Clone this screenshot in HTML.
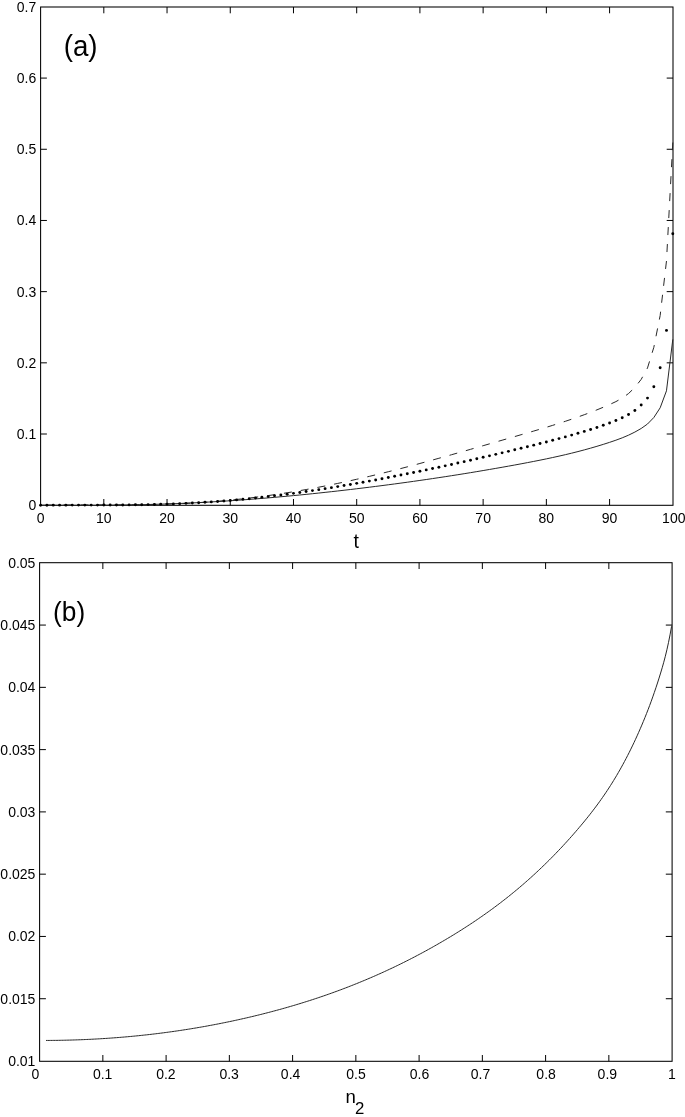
<!DOCTYPE html>
<html><head><meta charset="utf-8"><style>
html,body{margin:0;padding:0;background:#fff;}
svg{display:block;}
text{font-family:"Liberation Sans",sans-serif;fill:#000;}
svg{will-change:transform;}
</style></head><body>
<svg width="685" height="1117" viewBox="0 0 685 1117">
<rect width="685" height="1117" fill="#fff"/>
<rect x="40.6" y="7.0" width="632.40" height="498.30" fill="none" stroke="#000" stroke-width="1.05"/>
<path d="M103.82,505.3 V499.00 M103.82,7.0 V13.30" stroke="#000" stroke-width="1"/>
<path d="M167.04,505.3 V499.00 M167.04,7.0 V13.30" stroke="#000" stroke-width="1"/>
<path d="M230.26,505.3 V499.00 M230.26,7.0 V13.30" stroke="#000" stroke-width="1"/>
<path d="M293.48,505.3 V499.00 M293.48,7.0 V13.30" stroke="#000" stroke-width="1"/>
<path d="M356.70,505.3 V499.00 M356.70,7.0 V13.30" stroke="#000" stroke-width="1"/>
<path d="M419.92,505.3 V499.00 M419.92,7.0 V13.30" stroke="#000" stroke-width="1"/>
<path d="M483.14,505.3 V499.00 M483.14,7.0 V13.30" stroke="#000" stroke-width="1"/>
<path d="M546.36,505.3 V499.00 M546.36,7.0 V13.30" stroke="#000" stroke-width="1"/>
<path d="M609.58,505.3 V499.00 M609.58,7.0 V13.30" stroke="#000" stroke-width="1"/>
<path d="M40.6,434.01 H46.90 M673.0,434.01 H666.70" stroke="#000" stroke-width="1"/>
<path d="M40.6,362.83 H46.90 M673.0,362.83 H666.70" stroke="#000" stroke-width="1"/>
<path d="M40.6,291.64 H46.90 M673.0,291.64 H666.70" stroke="#000" stroke-width="1"/>
<path d="M40.6,220.46 H46.90 M673.0,220.46 H666.70" stroke="#000" stroke-width="1"/>
<path d="M40.6,149.27 H46.90 M673.0,149.27 H666.70" stroke="#000" stroke-width="1"/>
<path d="M40.6,78.09 H46.90 M673.0,78.09 H666.70" stroke="#000" stroke-width="1"/>
<path d="M40.60,505.16 L46.92,505.22 L53.24,505.27 L59.57,505.31 L65.89,505.34 L72.21,505.36 L78.53,505.36 L84.85,505.36 L91.18,505.34 L97.50,505.31 L103.82,505.26 L110.14,505.20 L116.46,505.13 L122.79,505.04 L129.11,504.93 L135.43,504.81 L141.75,504.67 L148.07,504.52 L154.40,504.34 L160.72,504.15 L167.04,503.94 L173.36,503.72 L179.68,503.47 L186.01,503.20 L192.33,502.91 L198.65,502.61 L204.97,502.28 L211.29,501.93 L217.62,501.56 L223.94,501.17 L230.26,500.75 L236.58,500.32 L242.90,499.87 L249.23,499.40 L255.55,498.91 L261.87,498.41 L268.19,497.88 L274.51,497.34 L280.84,496.78 L287.16,496.20 L293.48,495.60 L299.80,494.99 L306.12,494.36 L312.45,493.71 L318.77,493.05 L325.09,492.37 L331.41,491.68 L337.73,490.97 L344.06,490.24 L350.38,489.51 L356.70,488.75 L363.02,487.99 L369.34,487.21 L375.67,486.41 L381.99,485.60 L388.31,484.78 L394.63,483.94 L400.95,483.09 L407.28,482.22 L413.60,481.33 L419.92,480.43 L426.24,479.52 L432.56,478.59 L438.89,477.64 L445.21,476.68 L451.53,475.70 L457.85,474.71 L464.17,473.69 L470.50,472.67 L476.82,471.62 L483.14,470.56 L489.46,469.48 L495.78,468.39 L502.11,467.28 L508.43,466.15 L514.75,465.00 L521.07,463.83 L527.39,462.64 L533.72,461.42 L540.04,460.17 L546.36,458.87 L552.68,457.53 L559.00,456.13 L565.33,454.68 L571.65,453.16 L577.97,451.57 L584.29,449.90 L590.61,448.15 L596.94,446.31 L603.26,444.38 L609.58,442.35 L615.90,440.20 L622.22,437.83 L628.55,435.16 L634.87,432.07 L641.19,428.47 L647.51,424.00 L653.83,417.50 L660.16,407.80 L666.48,390.80 L672.80,339.40" fill="none" stroke="#282828" stroke-width="1"/>
<path d="M40.60,505.25 L46.92,505.15 L53.24,505.07 L59.57,505.01 L65.89,504.96 L72.21,504.93 L78.53,504.91 L84.85,504.90 L91.18,504.89 L97.50,504.88 L103.82,504.87 L110.14,504.86 L116.46,504.84 L122.79,504.81 L129.11,504.77 L135.43,504.72 L141.75,504.64 L148.07,504.55 L154.40,504.43 L160.72,504.28 L167.04,504.10 L173.36,503.89 L179.68,503.65 L186.01,503.37 L192.33,503.04 L198.65,502.67 L204.97,502.25 L211.29,501.79 L217.62,501.28 L223.94,500.72 L230.26,500.12 L236.58,499.48 L242.90,498.79 L249.23,498.05 L255.55,497.27 L261.87,496.45 L268.19,495.59 L274.51,494.68 L280.84,493.73 L287.16,492.75 L293.48,491.72 L299.80,490.65 L306.12,489.54 L312.45,488.39 L318.77,487.20 L325.09,485.97 L331.41,484.71 L337.73,483.41 L344.06,482.07 L350.38,480.69 L356.70,479.28 L363.02,477.84 L369.34,476.36 L375.67,474.84 L381.99,473.30 L388.31,471.73 L394.63,470.12 L400.95,468.50 L407.28,466.85 L413.60,465.17 L419.92,463.48 L426.24,461.76 L432.56,460.03 L438.89,458.28 L445.21,456.51 L451.53,454.73 L457.85,452.94 L464.17,451.14 L470.50,449.33 L476.82,447.52 L483.14,445.69 L489.46,443.87 L495.78,442.04 L502.11,440.21 L508.43,438.38 L514.75,436.55 L521.07,434.73 L527.39,432.90 L533.72,431.05 L540.04,429.19 L546.36,427.29 L552.68,425.35 L559.00,423.35 L565.33,421.30 L571.65,419.19 L577.97,416.99 L584.29,414.71 L590.61,412.33 L596.94,409.85 L603.26,407.26 L609.58,404.54 L615.90,401.61 L622.22,398.10 L628.55,393.53 L634.87,387.44 L641.19,379.38 L647.51,367.94 L653.83,347.30 L660.16,315.50 L666.48,261.00 L672.80,142.50" fill="none" stroke="#282828" stroke-width="1" stroke-dasharray="8 9" stroke-dashoffset="11.1"/>
<circle cx="40.60" cy="505.23" r="1.45"/>
<circle cx="46.92" cy="505.19" r="1.45"/>
<circle cx="53.24" cy="505.16" r="1.45"/>
<circle cx="59.57" cy="505.14" r="1.45"/>
<circle cx="65.89" cy="505.13" r="1.45"/>
<circle cx="72.21" cy="505.12" r="1.45"/>
<circle cx="78.53" cy="505.12" r="1.45"/>
<circle cx="84.85" cy="505.11" r="1.45"/>
<circle cx="91.18" cy="505.10" r="1.45"/>
<circle cx="97.50" cy="505.09" r="1.45"/>
<circle cx="103.82" cy="505.07" r="1.45"/>
<circle cx="110.14" cy="505.04" r="1.45"/>
<circle cx="116.46" cy="505.00" r="1.45"/>
<circle cx="122.79" cy="504.96" r="1.45"/>
<circle cx="129.11" cy="504.89" r="1.45"/>
<circle cx="135.43" cy="504.81" r="1.45"/>
<circle cx="141.75" cy="504.71" r="1.45"/>
<circle cx="148.07" cy="504.60" r="1.45"/>
<circle cx="154.40" cy="504.46" r="1.45"/>
<circle cx="160.72" cy="504.29" r="1.45"/>
<circle cx="167.04" cy="504.10" r="1.45"/>
<circle cx="173.36" cy="503.88" r="1.45"/>
<circle cx="179.68" cy="503.63" r="1.45"/>
<circle cx="186.01" cy="503.35" r="1.45"/>
<circle cx="192.33" cy="503.04" r="1.45"/>
<circle cx="198.65" cy="502.70" r="1.45"/>
<circle cx="204.97" cy="502.32" r="1.45"/>
<circle cx="211.29" cy="501.91" r="1.45"/>
<circle cx="217.62" cy="501.46" r="1.45"/>
<circle cx="223.94" cy="500.98" r="1.45"/>
<circle cx="230.26" cy="500.46" r="1.45"/>
<circle cx="236.58" cy="499.90" r="1.45"/>
<circle cx="242.90" cy="499.31" r="1.45"/>
<circle cx="249.23" cy="498.68" r="1.45"/>
<circle cx="255.55" cy="498.02" r="1.45"/>
<circle cx="261.87" cy="497.32" r="1.45"/>
<circle cx="268.19" cy="496.58" r="1.45"/>
<circle cx="274.51" cy="495.82" r="1.45"/>
<circle cx="280.84" cy="495.02" r="1.45"/>
<circle cx="287.16" cy="494.20" r="1.45"/>
<circle cx="293.48" cy="493.34" r="1.45"/>
<circle cx="299.80" cy="492.46" r="1.45"/>
<circle cx="306.12" cy="491.55" r="1.45"/>
<circle cx="312.45" cy="490.61" r="1.45"/>
<circle cx="318.77" cy="489.64" r="1.45"/>
<circle cx="325.09" cy="488.66" r="1.45"/>
<circle cx="331.41" cy="487.64" r="1.45"/>
<circle cx="337.73" cy="486.61" r="1.45"/>
<circle cx="344.06" cy="485.55" r="1.45"/>
<circle cx="350.38" cy="484.47" r="1.45"/>
<circle cx="356.70" cy="483.37" r="1.45"/>
<circle cx="363.02" cy="482.24" r="1.45"/>
<circle cx="369.34" cy="481.10" r="1.45"/>
<circle cx="375.67" cy="479.93" r="1.45"/>
<circle cx="381.99" cy="478.75" r="1.45"/>
<circle cx="388.31" cy="477.54" r="1.45"/>
<circle cx="394.63" cy="476.31" r="1.45"/>
<circle cx="400.95" cy="475.07" r="1.45"/>
<circle cx="407.28" cy="473.80" r="1.45"/>
<circle cx="413.60" cy="472.52" r="1.45"/>
<circle cx="419.92" cy="471.22" r="1.45"/>
<circle cx="426.24" cy="469.90" r="1.45"/>
<circle cx="432.56" cy="468.57" r="1.45"/>
<circle cx="438.89" cy="467.22" r="1.45"/>
<circle cx="445.21" cy="465.85" r="1.45"/>
<circle cx="451.53" cy="464.46" r="1.45"/>
<circle cx="457.85" cy="463.06" r="1.45"/>
<circle cx="464.17" cy="461.65" r="1.45"/>
<circle cx="470.50" cy="460.22" r="1.45"/>
<circle cx="476.82" cy="458.77" r="1.45"/>
<circle cx="483.14" cy="457.32" r="1.45"/>
<circle cx="489.46" cy="455.84" r="1.45"/>
<circle cx="495.78" cy="454.36" r="1.45"/>
<circle cx="502.11" cy="452.86" r="1.45"/>
<circle cx="508.43" cy="451.35" r="1.45"/>
<circle cx="514.75" cy="449.82" r="1.45"/>
<circle cx="521.07" cy="448.29" r="1.45"/>
<circle cx="527.39" cy="446.74" r="1.45"/>
<circle cx="533.72" cy="445.16" r="1.45"/>
<circle cx="540.04" cy="443.57" r="1.45"/>
<circle cx="546.36" cy="441.95" r="1.45"/>
<circle cx="552.68" cy="440.29" r="1.45"/>
<circle cx="559.00" cy="438.61" r="1.45"/>
<circle cx="565.33" cy="436.88" r="1.45"/>
<circle cx="571.65" cy="435.11" r="1.45"/>
<circle cx="577.97" cy="433.29" r="1.45"/>
<circle cx="584.29" cy="431.42" r="1.45"/>
<circle cx="590.61" cy="429.48" r="1.45"/>
<circle cx="596.94" cy="427.44" r="1.45"/>
<circle cx="603.26" cy="425.28" r="1.45"/>
<circle cx="609.58" cy="422.98" r="1.45"/>
<circle cx="615.90" cy="420.52" r="1.45"/>
<circle cx="622.22" cy="417.81" r="1.45"/>
<circle cx="628.55" cy="414.57" r="1.45"/>
<circle cx="634.87" cy="410.43" r="1.45"/>
<circle cx="641.19" cy="405.07" r="1.45"/>
<circle cx="647.51" cy="398.12" r="1.45"/>
<circle cx="653.83" cy="386.73" r="1.45"/>
<circle cx="660.16" cy="367.80" r="1.45"/>
<circle cx="666.48" cy="330.40" r="1.45"/>
<circle cx="672.80" cy="233.70" r="1.45"/>
<rect x="39.6" y="562.7" width="632.50" height="498.60" fill="none" stroke="#000" stroke-width="1.05"/>
<path d="M102.85,1061.3 V1055.00 M102.85,562.7 V569.00" stroke="#000" stroke-width="1"/>
<path d="M166.10,1061.3 V1055.00 M166.10,562.7 V569.00" stroke="#000" stroke-width="1"/>
<path d="M229.35,1061.3 V1055.00 M229.35,562.7 V569.00" stroke="#000" stroke-width="1"/>
<path d="M292.60,1061.3 V1055.00 M292.60,562.7 V569.00" stroke="#000" stroke-width="1"/>
<path d="M355.85,1061.3 V1055.00 M355.85,562.7 V569.00" stroke="#000" stroke-width="1"/>
<path d="M419.10,1061.3 V1055.00 M419.10,562.7 V569.00" stroke="#000" stroke-width="1"/>
<path d="M482.35,1061.3 V1055.00 M482.35,562.7 V569.00" stroke="#000" stroke-width="1"/>
<path d="M545.60,1061.3 V1055.00 M545.60,562.7 V569.00" stroke="#000" stroke-width="1"/>
<path d="M608.85,1061.3 V1055.00 M608.85,562.7 V569.00" stroke="#000" stroke-width="1"/>
<path d="M39.6,998.73 H45.90 M672.1,998.73 H665.80" stroke="#000" stroke-width="1"/>
<path d="M39.6,936.45 H45.90 M672.1,936.45 H665.80" stroke="#000" stroke-width="1"/>
<path d="M39.6,874.17 H45.90 M672.1,874.17 H665.80" stroke="#000" stroke-width="1"/>
<path d="M39.6,811.90 H45.90 M672.1,811.90 H665.80" stroke="#000" stroke-width="1"/>
<path d="M39.6,749.62 H45.90 M672.1,749.62 H665.80" stroke="#000" stroke-width="1"/>
<path d="M39.6,687.35 H45.90 M672.1,687.35 H665.80" stroke="#000" stroke-width="1"/>
<path d="M39.6,625.07 H45.90 M672.1,625.07 H665.80" stroke="#000" stroke-width="1"/>
<path d="M46.00,1040.45 L47.57,1040.44 L49.14,1040.44 L50.70,1040.42 L52.27,1040.41 L53.84,1040.39 L55.41,1040.38 L56.98,1040.36 L58.54,1040.33 L60.11,1040.31 L61.68,1040.28 L63.25,1040.25 L64.82,1040.21 L66.38,1040.18 L67.95,1040.14 L69.52,1040.10 L71.09,1040.05 L72.65,1040.01 L74.22,1039.96 L75.79,1039.91 L77.36,1039.85 L78.93,1039.80 L80.49,1039.74 L82.06,1039.68 L83.63,1039.61 L85.20,1039.54 L86.77,1039.47 L88.33,1039.40 L89.90,1039.33 L91.47,1039.25 L93.04,1039.17 L94.61,1039.09 L96.17,1039.00 L97.74,1038.92 L99.31,1038.83 L100.88,1038.73 L102.45,1038.64 L104.01,1038.54 L105.58,1038.44 L107.15,1038.33 L108.72,1038.23 L110.28,1038.12 L111.85,1038.01 L113.42,1037.89 L114.99,1037.77 L116.56,1037.66 L118.12,1037.53 L119.69,1037.41 L121.26,1037.28 L122.83,1037.15 L124.40,1037.02 L125.96,1036.88 L127.53,1036.74 L129.10,1036.60 L130.67,1036.46 L132.24,1036.31 L133.80,1036.16 L135.37,1036.01 L136.94,1035.85 L138.51,1035.69 L140.08,1035.53 L141.64,1035.37 L143.21,1035.20 L144.78,1035.03 L146.35,1034.86 L147.91,1034.69 L149.48,1034.51 L151.05,1034.33 L152.62,1034.15 L154.19,1033.96 L155.75,1033.77 L157.32,1033.58 L158.89,1033.39 L160.46,1033.19 L162.03,1032.99 L163.59,1032.79 L165.16,1032.58 L166.73,1032.37 L168.30,1032.16 L169.87,1031.95 L171.43,1031.73 L173.00,1031.51 L174.57,1031.29 L176.14,1031.06 L177.71,1030.83 L179.27,1030.60 L180.84,1030.36 L182.41,1030.13 L183.98,1029.89 L185.54,1029.64 L187.11,1029.40 L188.68,1029.15 L190.25,1028.90 L191.82,1028.64 L193.38,1028.38 L194.95,1028.12 L196.52,1027.86 L198.09,1027.59 L199.66,1027.32 L201.22,1027.05 L202.79,1026.77 L204.36,1026.50 L205.93,1026.21 L207.50,1025.93 L209.06,1025.64 L210.63,1025.35 L212.20,1025.06 L213.77,1024.76 L215.34,1024.46 L216.90,1024.16 L218.47,1023.85 L220.04,1023.54 L221.61,1023.23 L223.17,1022.92 L224.74,1022.60 L226.31,1022.28 L227.88,1021.96 L229.45,1021.63 L231.01,1021.30 L232.58,1020.97 L234.15,1020.63 L235.72,1020.29 L237.29,1019.95 L238.85,1019.60 L240.42,1019.25 L241.99,1018.90 L243.56,1018.55 L245.13,1018.19 L246.69,1017.83 L248.26,1017.47 L249.83,1017.10 L251.40,1016.73 L252.97,1016.36 L254.53,1015.98 L256.10,1015.60 L257.67,1015.22 L259.24,1014.83 L260.81,1014.44 L262.37,1014.05 L263.94,1013.65 L265.51,1013.25 L267.08,1012.85 L268.64,1012.44 L270.21,1012.03 L271.78,1011.62 L273.35,1011.20 L274.92,1010.78 L276.48,1010.36 L278.05,1009.93 L279.62,1009.50 L281.19,1009.07 L282.76,1008.63 L284.32,1008.19 L285.89,1007.75 L287.46,1007.30 L289.03,1006.85 L290.60,1006.39 L292.16,1005.93 L293.73,1005.47 L295.30,1005.00 L296.87,1004.53 L298.44,1004.06 L300.00,1003.58 L301.57,1003.10 L303.14,1002.61 L304.71,1002.12 L306.27,1001.63 L307.84,1001.13 L309.41,1000.63 L310.98,1000.13 L312.55,999.62 L314.11,999.10 L315.68,998.59 L317.25,998.07 L318.82,997.54 L320.39,997.01 L321.95,996.48 L323.52,995.94 L325.09,995.40 L326.66,994.85 L328.23,994.30 L329.79,993.75 L331.36,993.19 L332.93,992.63 L334.50,992.06 L336.07,991.49 L337.63,990.91 L339.20,990.33 L340.77,989.75 L342.34,989.16 L343.90,988.56 L345.47,987.97 L347.04,987.36 L348.61,986.76 L350.18,986.15 L351.74,985.53 L353.31,984.91 L354.88,984.28 L356.45,983.66 L358.02,983.02 L359.58,982.38 L361.15,981.74 L362.72,981.09 L364.29,980.44 L365.86,979.78 L367.42,979.12 L368.99,978.45 L370.56,977.78 L372.13,977.10 L373.70,976.42 L375.26,975.74 L376.83,975.04 L378.40,974.35 L379.97,973.65 L381.53,972.94 L383.10,972.23 L384.67,971.51 L386.24,970.79 L387.81,970.07 L389.37,969.34 L390.94,968.60 L392.51,967.86 L394.08,967.11 L395.65,966.36 L397.21,965.61 L398.78,964.84 L400.35,964.08 L401.92,963.30 L403.49,962.53 L405.05,961.74 L406.62,960.96 L408.19,960.16 L409.76,959.36 L411.33,958.56 L412.89,957.75 L414.46,956.94 L416.03,956.12 L417.60,955.29 L419.16,954.46 L420.73,953.62 L422.30,952.78 L423.87,951.93 L425.44,951.08 L427.00,950.22 L428.57,949.36 L430.14,948.49 L431.71,947.61 L433.28,946.73 L434.84,945.84 L436.41,944.95 L437.98,944.05 L439.55,943.15 L441.12,942.24 L442.68,941.32 L444.25,940.40 L445.82,939.48 L447.39,938.54 L448.96,937.60 L450.52,936.66 L452.09,935.71 L453.66,934.75 L455.23,933.79 L456.79,932.82 L458.36,931.84 L459.93,930.86 L461.50,929.87 L463.07,928.87 L464.63,927.87 L466.20,926.86 L467.77,925.84 L469.34,924.82 L470.91,923.79 L472.47,922.75 L474.04,921.70 L475.61,920.65 L477.18,919.58 L478.75,918.51 L480.31,917.43 L481.88,916.35 L483.45,915.25 L485.02,914.15 L486.59,913.03 L488.15,911.91 L489.72,910.78 L491.29,909.64 L492.86,908.49 L494.43,907.33 L495.99,906.17 L497.56,904.99 L499.13,903.80 L500.70,902.61 L502.26,901.40 L503.83,900.18 L505.40,898.96 L506.97,897.72 L508.54,896.47 L510.10,895.22 L511.67,893.95 L513.24,892.67 L514.81,891.38 L516.38,890.08 L517.94,888.77 L519.51,887.44 L521.08,886.11 L522.65,884.76 L524.22,883.41 L525.78,882.04 L527.35,880.66 L528.92,879.26 L530.49,877.86 L532.06,876.44 L533.62,875.01 L535.19,873.57 L536.76,872.12 L538.33,870.65 L539.89,869.17 L541.46,867.68 L543.03,866.17 L544.60,864.65 L546.17,863.12 L547.73,861.57 L549.30,860.01 L550.87,858.44 L552.44,856.85 L554.01,855.25 L555.57,853.64 L557.14,852.01 L558.71,850.36 L560.28,848.71 L561.85,847.03 L563.41,845.35 L564.98,843.64 L566.55,841.93 L568.12,840.20 L569.69,838.45 L571.25,836.69 L572.82,834.91 L574.39,833.12 L575.96,831.31 L577.52,829.48 L579.09,827.64 L580.66,825.79 L582.23,823.91 L583.80,822.02 L585.36,820.11 L586.93,818.18 L588.50,816.22 L590.07,814.24 L591.64,812.24 L593.20,810.20 L594.77,808.14 L596.34,806.05 L597.91,803.92 L599.48,801.76 L601.04,799.57 L602.61,797.34 L604.18,795.07 L605.75,792.76 L607.32,790.41 L608.88,788.02 L610.45,785.58 L612.02,783.10 L613.59,780.56 L615.15,777.98 L616.72,775.35 L618.29,772.67 L619.86,769.93 L621.43,767.14 L622.99,764.29 L624.56,761.38 L626.13,758.42 L627.70,755.39 L629.27,752.30 L630.83,749.14 L632.40,745.92 L633.97,742.63 L635.54,739.27 L637.11,735.84 L638.67,732.34 L640.24,728.76 L641.81,725.11 L643.38,721.37 L644.95,717.55 L646.51,713.63 L648.08,709.61 L649.65,705.48 L651.22,701.24 L652.78,696.88 L654.35,692.39 L655.92,687.77 L657.49,683.01 L659.06,678.10 L660.62,673.04 L662.19,667.78 L663.76,662.22 L665.33,656.26 L666.90,649.79 L668.46,642.70 L670.03,634.90 L671.60,626.28" fill="none" stroke="#282828" stroke-width="1"/>
<g id="lab">
<text x="40.60" y="523.00" text-anchor="middle" font-size="14">0</text>
<text x="103.82" y="523.00" text-anchor="middle" font-size="14">10</text>
<text x="167.04" y="523.00" text-anchor="middle" font-size="14">20</text>
<text x="230.26" y="523.00" text-anchor="middle" font-size="14">30</text>
<text x="293.48" y="523.00" text-anchor="middle" font-size="14">40</text>
<text x="356.70" y="523.00" text-anchor="middle" font-size="14">50</text>
<text x="419.92" y="523.00" text-anchor="middle" font-size="14">60</text>
<text x="483.14" y="523.00" text-anchor="middle" font-size="14">70</text>
<text x="546.36" y="523.00" text-anchor="middle" font-size="14">80</text>
<text x="609.58" y="523.00" text-anchor="middle" font-size="14">90</text>
<text x="673.80" y="523.00" text-anchor="middle" font-size="14">100</text>
<text x="36.30" y="510.20" text-anchor="end" font-size="14">0</text>
<text x="36.30" y="439.01" text-anchor="end" font-size="14">0.1</text>
<text x="36.30" y="367.83" text-anchor="end" font-size="14">0.2</text>
<text x="36.30" y="296.64" text-anchor="end" font-size="14">0.3</text>
<text x="36.30" y="225.46" text-anchor="end" font-size="14">0.4</text>
<text x="36.30" y="154.27" text-anchor="end" font-size="14">0.5</text>
<text x="36.30" y="83.09" text-anchor="end" font-size="14">0.6</text>
<text x="36.30" y="11.90" text-anchor="end" font-size="14">0.7</text>
<text x="356.30" y="547.50" text-anchor="middle" font-size="19.5">t</text>
<text transform="translate(80.6,55.65) scale(0.93,1)" text-anchor="middle" font-size="29.8">(a)</text>
<text x="35.30" y="1078.80" text-anchor="middle" font-size="14">0</text>
<text x="102.65" y="1078.80" text-anchor="middle" font-size="14">0.1</text>
<text x="165.90" y="1078.80" text-anchor="middle" font-size="14">0.2</text>
<text x="229.15" y="1078.80" text-anchor="middle" font-size="14">0.3</text>
<text x="290.60" y="1078.80" text-anchor="middle" font-size="14">0.4</text>
<text x="355.95" y="1078.80" text-anchor="middle" font-size="14">0.5</text>
<text x="419.50" y="1078.80" text-anchor="middle" font-size="14">0.6</text>
<text x="480.55" y="1078.80" text-anchor="middle" font-size="14">0.7</text>
<text x="546.10" y="1078.80" text-anchor="middle" font-size="14">0.8</text>
<text x="607.35" y="1078.80" text-anchor="middle" font-size="14">0.9</text>
<text x="671.80" y="1078.80" text-anchor="middle" font-size="14">1</text>
<text x="35.40" y="1066.00" text-anchor="end" font-size="14">0.01</text>
<text x="35.40" y="1003.73" text-anchor="end" font-size="14">0.015</text>
<text x="35.40" y="941.45" text-anchor="end" font-size="14">0.02</text>
<text x="35.40" y="879.17" text-anchor="end" font-size="14">0.025</text>
<text x="35.40" y="816.90" text-anchor="end" font-size="14">0.03</text>
<text x="35.40" y="754.62" text-anchor="end" font-size="14">0.035</text>
<text x="35.40" y="692.35" text-anchor="end" font-size="14">0.04</text>
<text x="35.40" y="630.07" text-anchor="end" font-size="14">0.045</text>
<text x="35.40" y="567.80" text-anchor="end" font-size="14">0.05</text>
<text x="345.5" y="1103.4" font-size="18.6">n</text>
<text x="355.0" y="1113.7" font-size="16.8">2</text>
<text transform="translate(69.1,621.0) scale(0.96,1)" text-anchor="middle" font-size="27.4">(b)</text>
</g>
</svg>
</body></html>
